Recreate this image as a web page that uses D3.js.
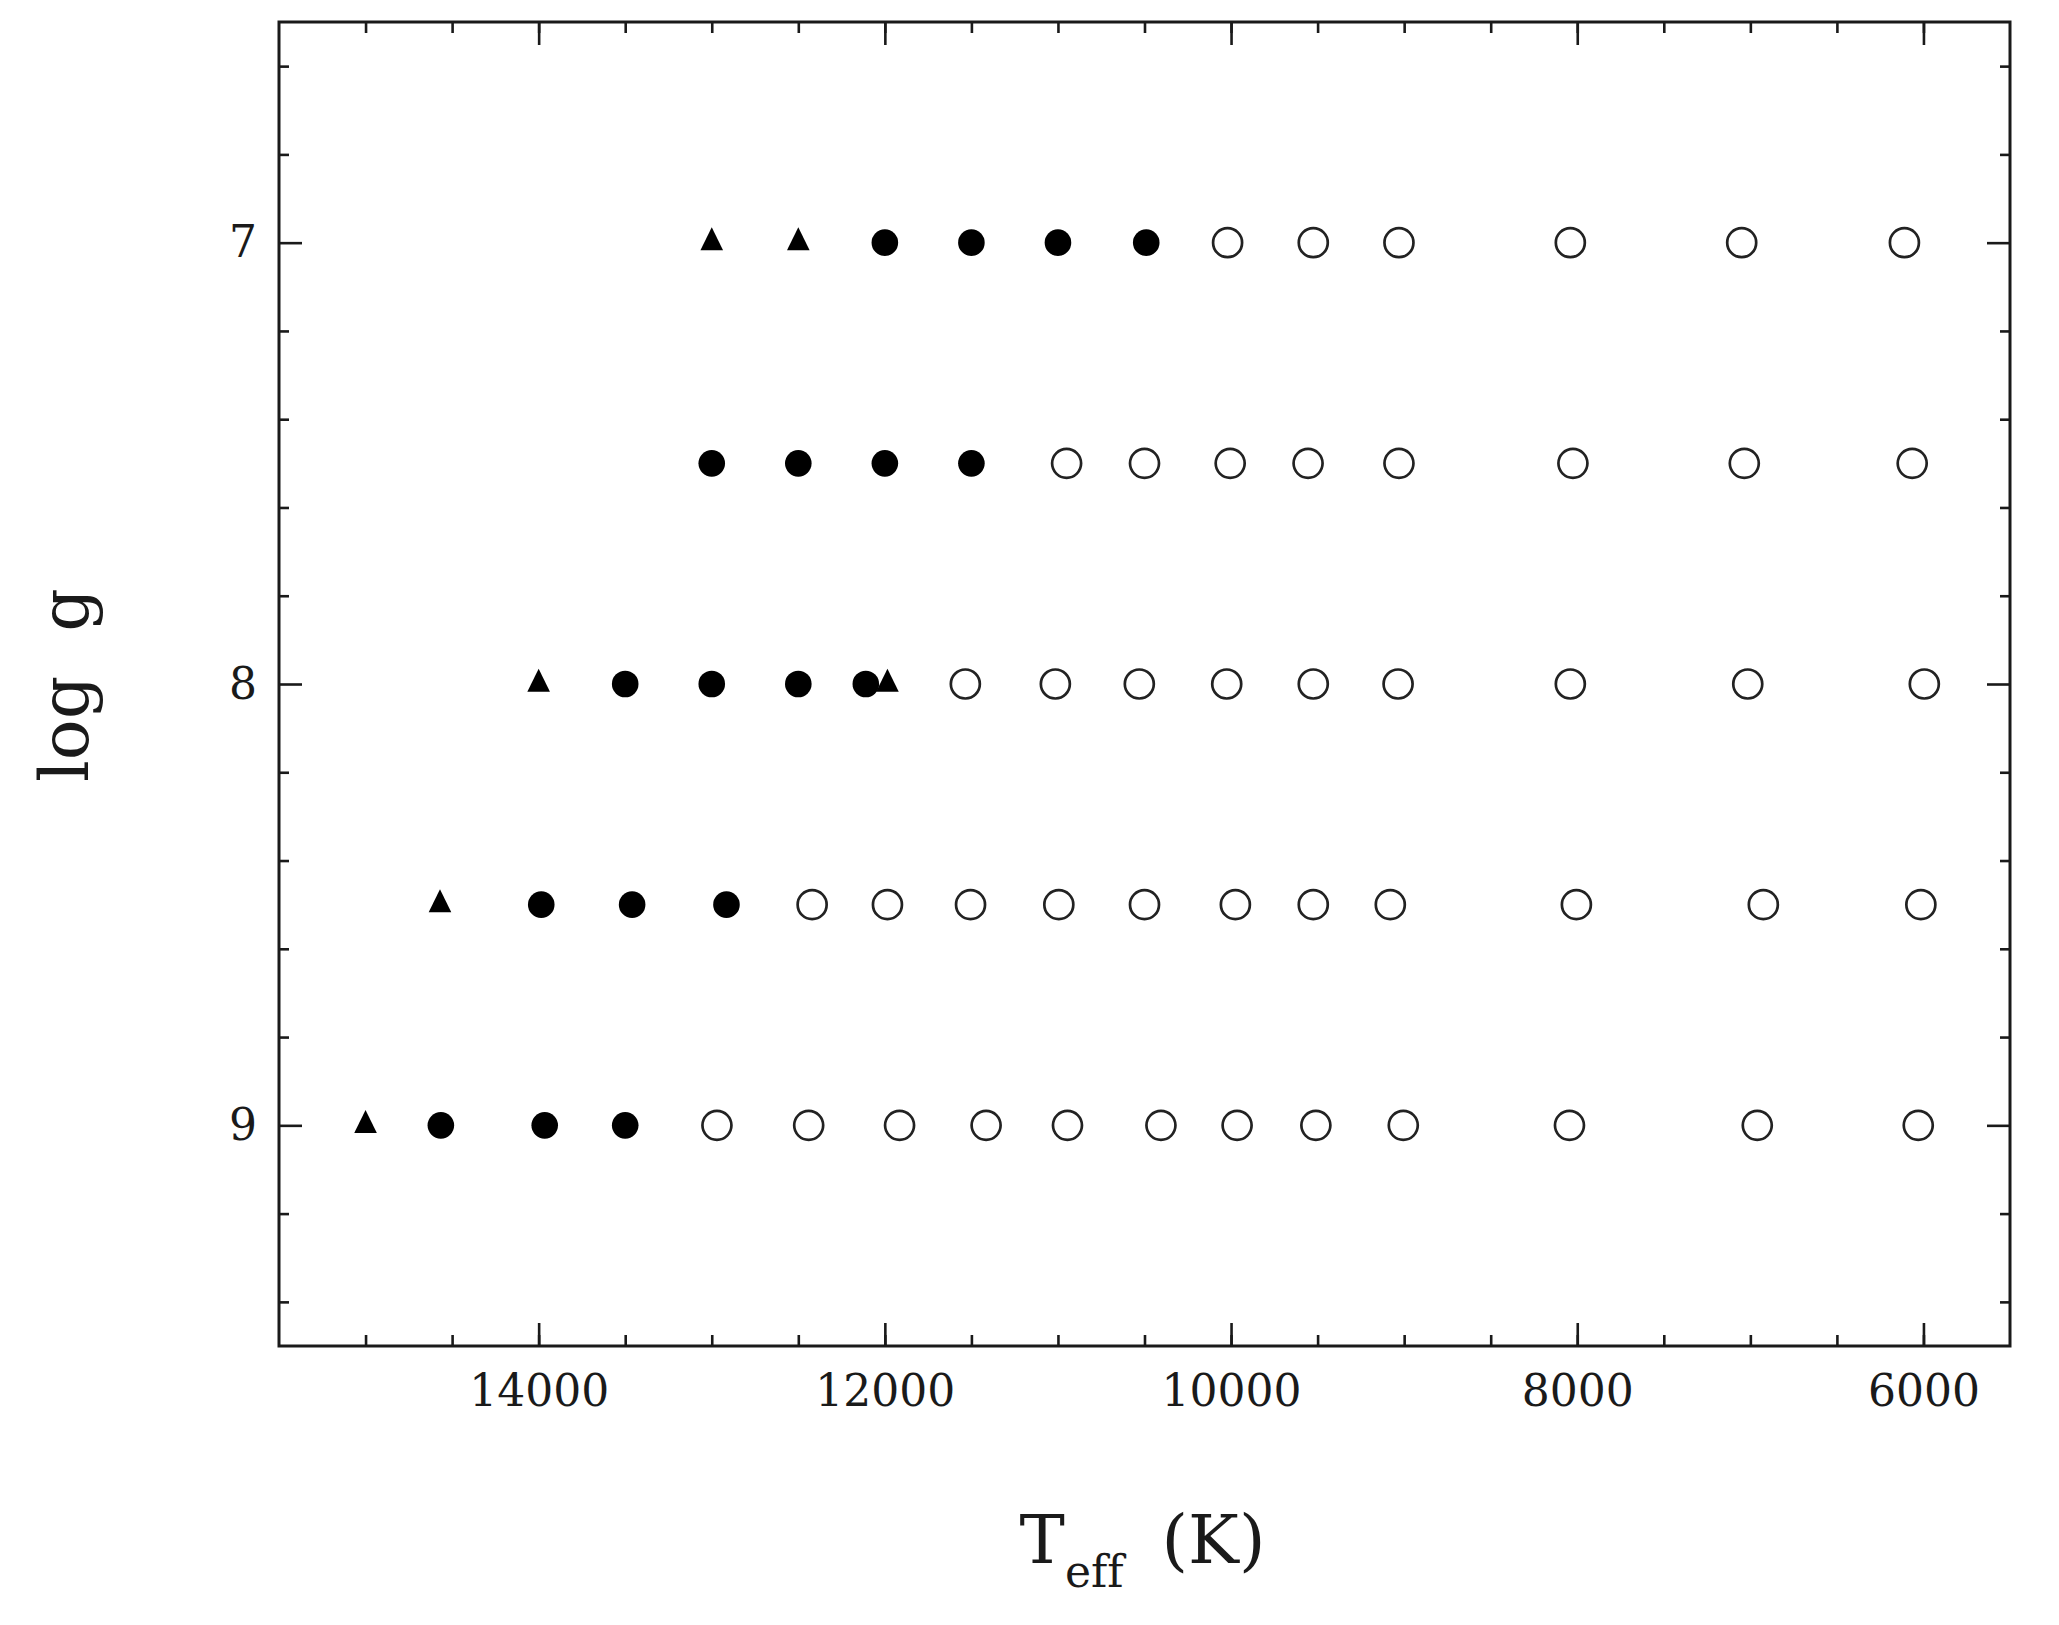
<!DOCTYPE html>
<html>
<head>
<meta charset="utf-8">
<script src="https://cdn.jsdelivr.net/npm/d3@7/dist/d3.min.js"></script>
<style>
  html, body { margin: 0; padding: 0; background: #fff; }
  svg { display: block; }
  text { font-variant-ligatures: none; font-feature-settings: "liga" 0, "clig" 0; }
</style>
</head>
<body>
<script>
// ---- Data ----
const loggRows = [7, 7.5, 8, 8.5, 9];
const triangleT = [
  [13000, 12500],
  [],
  [14000, 11985],
  [14570],
  [15000]
];
const filledT = [
  [12000, 11500, 11000, 10490],
  [13000, 12500, 12000, 11500],
  [13500, 13000, 12500, 12110],
  [13985, 13460, 12915],
  [14565, 13965, 13500]
];
const openT = [
  [10020, 9525, 9030, 8040, 7050, 6110],
  [10950, 10500, 10005, 9555, 9030, 8025, 7035, 6065],
  [11535, 11015, 10530, 10025, 9525, 9035, 8040, 7015, 5995],
  [12420, 11985, 11505, 10995, 10500, 9975, 9525, 9080, 8005, 6925, 6015],
  [12970, 12440, 11915, 11415, 10945, 10405, 9965, 9510, 9005, 8045, 6960, 6030]
];
const xMajorTicks = [14000, 12000, 10000, 8000, 6000];
const xMinorTicks = d3.range(6000, 15001, 500);
const yMajorTicks = [7, 8, 9];
const yMinorTicks = [6.6, 6.8, 7.2, 7.4, 7.6, 7.8, 8.2, 8.4, 8.6, 8.8, 9.2, 9.4];

// ---- Layout ----
const W = 2059, H = 1625;
const margin = { left: 279, top: 22, right: 49, bottom: 279 };
const iw = W - margin.left - margin.right;
const ih = H - margin.top - margin.bottom;

const svg = d3.select("body").append("svg").attr("width", W).attr("height", H);
const g = svg.append("g").attr("transform", `translate(${margin.left},${margin.top})`);

const x = d3.scaleLinear().domain([15500, 5500]).range([0, iw]);
const y = d3.scaleLinear().domain([6.5, 9.5]).range([0, ih]);

const ink = "#1a1a1a";
const font = "'DejaVu Serif', serif";

function styleAxis(sel) {
  sel.select(".domain").remove();
  sel.selectAll(".tick line").attr("stroke", ink).attr("stroke-width", 2.6);
  sel.selectAll(".tick text").attr("fill", ink).style("font-family", font).style("font-size", "44px");
}

// minor ticks
g.append("g").attr("transform", `translate(0,${ih})`)
  .call(d3.axisBottom(x).tickValues(xMinorTicks).tickSizeInner(-11).tickSizeOuter(0).tickFormat(""))
  .call(styleAxis);
g.append("g")
  .call(d3.axisTop(x).tickValues(xMinorTicks).tickSizeInner(-11).tickSizeOuter(0).tickFormat(""))
  .call(styleAxis);
g.append("g")
  .call(d3.axisLeft(y).tickValues(yMinorTicks).tickSizeInner(-10).tickSizeOuter(0).tickFormat(""))
  .call(styleAxis);
g.append("g").attr("transform", `translate(${iw},0)`)
  .call(d3.axisRight(y).tickValues(yMinorTicks).tickSizeInner(-10).tickSizeOuter(0).tickFormat(""))
  .call(styleAxis);

// major ticks
g.append("g").attr("transform", `translate(0,${ih})`)
  .call(d3.axisBottom(x).tickValues(xMajorTicks).tickSizeInner(-23).tickSizeOuter(0).tickPadding(29).tickFormat(d3.format("d")))
  .call(styleAxis);
g.append("g")
  .call(d3.axisTop(x).tickValues(xMajorTicks).tickSizeInner(-23).tickSizeOuter(0).tickFormat(""))
  .call(styleAxis);
g.append("g")
  .call(d3.axisLeft(y).tickValues(yMajorTicks).tickSizeInner(-23).tickSizeOuter(0).tickPadding(22).tickFormat(d3.format("d")))
  .call(styleAxis);
g.append("g").attr("transform", `translate(${iw},0)`)
  .call(d3.axisRight(y).tickValues(yMajorTicks).tickSizeInner(-23).tickSizeOuter(0).tickFormat(""))
  .call(styleAxis);

// frame
g.append("rect").attr("x", 0).attr("y", 0).attr("width", iw).attr("height", ih)
  .attr("fill", "none").attr("stroke", ink).attr("stroke-width", 3);

// flatten data
const flat = (arr) => arr.flatMap((row, i) => row.map(t => ({ t, g: loggRows[i] })));

// open circles
g.append("g").selectAll("circle").data(flat(openT)).join("circle")
  .attr("cx", d => x(d.t)).attr("cy", d => y(d.g)).attr("r", 14.5)
  .attr("fill", "none").attr("stroke", "#222").attr("stroke-width", 2.7);

// filled circles
g.append("g").selectAll("circle").data(flat(filledT)).join("circle")
  .attr("cx", d => x(d.t)).attr("cy", d => y(d.g)).attr("r", 13.3)
  .attr("fill", "#000");

// triangles (isosceles, centred on centroid)
const triSymbol = {
  draw(ctx, size) {
    const h = 23, hw = 11.3;
    ctx.moveTo(0, -2 * h / 3);
    ctx.lineTo(hw, h / 3);
    ctx.lineTo(-hw, h / 3);
    ctx.closePath();
  }
};
g.append("g").selectAll("path").data(flat(triangleT)).join("path")
  .attr("transform", d => `translate(${x(d.t)},${y(d.g)})`)
  .attr("d", d3.symbol().type(triSymbol).size(1))
  .attr("fill", "#000");

// axis titles
const xt = svg.append("text")
  .attr("x", margin.left + iw / 2 - 2).attr("y", 1563)
  .attr("text-anchor", "middle").attr("fill", ink)
  .style("font-family", font).style("font-size", "68px");
xt.append("tspan").text("T");
xt.append("tspan").attr("dy", 24).style("font-size", "44px").text("eff");
xt.append("tspan").attr("dy", -24).attr("dx", 38).text("(K)");

const yt = svg.append("text")
  .attr("transform", "translate(88,685) rotate(-90)")
  .attr("text-anchor", "middle").attr("fill", ink)
  .style("font-family", font).style("font-size", "68px");
yt.append("tspan").text("log");
yt.append("tspan").attr("dx", 44).text("g");
</script>
</body>
</html>
